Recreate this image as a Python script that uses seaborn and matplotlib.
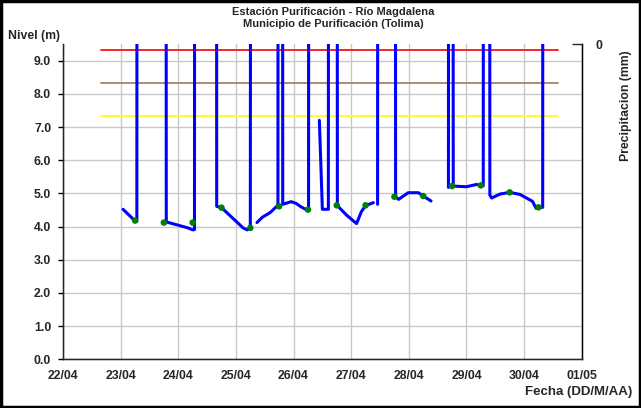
import matplotlib
matplotlib.use("Agg")
import matplotlib.pyplot as plt
import matplotlib.dates as mdates
import numpy as np
import pandas as pd
import seaborn as sns

# Nivel automatico (picos fuera de escala = 20, NaN = sin dato)
nivel_fechas = [
    "2011-04-23 01:00", "2011-04-23 03:00", "2011-04-23 06:00", "2011-04-23 06:45",
    "2011-04-23 06:50", "2011-04-23 18:55", "2011-04-23 19:00", "2011-04-24 04:00",
    "2011-04-24 06:00", "2011-04-24 06:45", "2011-04-24 06:50", "2011-04-24 15:55",
    "2011-04-24 16:00", "2011-04-24 18:00", "2011-04-25 03:00", "2011-04-25 04:45",
    "2011-04-25 06:00", "2011-04-25 06:10", "2011-04-25 07:00",
    "2011-04-25 08:45", "2011-04-25 11:00", "2011-04-25 14:15", "2011-04-25 17:00",
    "2011-04-25 17:30", "2011-04-25 17:35", "2011-04-25 19:25", "2011-04-25 19:30",
    "2011-04-25 23:00", "2011-04-26 01:00", "2011-04-26 03:00", "2011-04-26 05:00",
    "2011-04-26 06:15", "2011-04-26 06:20", "2011-04-26 08:00",
    "2011-04-26 10:45", "2011-04-26 12:00", "2011-04-26 14:30", "2011-04-26 14:35",
    "2011-04-26 18:10", "2011-04-26 18:15", "2011-04-26 22:00", "2011-04-27 02:15",
    "2011-04-27 04:15", "2011-04-27 06:00", "2011-04-27 09:15", "2011-04-27 10:00",
    "2011-04-27 11:00", "2011-04-27 11:05", "2011-04-27 18:25", "2011-04-27 18:30",
    "2011-04-27 19:45", "2011-04-27 23:45", "2011-04-28 04:00", "2011-04-28 06:00",
    "2011-04-28 09:15", "2011-04-28 12:00",
    "2011-04-28 16:30", "2011-04-28 16:35", "2011-04-28 18:25", "2011-04-28 18:30",
    "2011-04-29 00:00", "2011-04-29 04:15", "2011-04-29 06:00", "2011-04-29 07:00",
    "2011-04-29 07:05", "2011-04-29 09:40", "2011-04-29 09:45", "2011-04-29 10:30",
    "2011-04-29 14:00", "2011-04-29 18:00", "2011-04-29 22:15", "2011-04-30 03:30",
    "2011-04-30 05:00", "2011-04-30 07:45", "2011-04-30 07:50",
]
nivel_valores = [
    4.52, 4.38, 4.17, 4.16,
    20.0, 20.0, 4.14, 3.96,
    3.90, 3.91, 20.0, 20.0,
    4.61, 4.57, 3.96, 3.90,
    3.96, 20.0, np.nan,
    4.12, 4.28, 4.42, 4.61,
    4.63, 20.0, 20.0, 4.67,
    4.75, 4.70, 4.60, 4.52,
    4.50, 20.0, np.nan,
    7.20, 4.52, 4.52, 20.0,
    20.0, 4.63, 4.35, 4.09,
    4.45, 4.63, 4.72, np.nan,
    4.67, 20.0, 20.0, 4.90,
    4.82, 5.02, 5.02, 4.92,
    4.77, np.nan,
    5.18, 20.0, 20.0, 5.22,
    5.20, 5.27, 5.23, 5.23,
    20.0, 20.0, 4.95, 4.86,
    4.98, 5.03, 4.97, 4.76,
    4.55, 4.58, 20.0,
]

# Lecturas de mira (06:00 y 18:00)
mira_fechas = pd.date_range("2011-04-23 06:00", "2011-04-30 06:00", freq="12h")
mira_valores = [4.18, 4.12, 4.12, 4.57, 3.96, 4.61, 4.51, 4.64,
                4.64, 4.90, 4.92, 5.22, 5.24, 5.03, 4.58]

# Umbrales de alerta
umbral_inicio = "2011-04-22 16:00"
umbral_fin = "2011-04-30 14:00"
umbral_valores = [9.33, 8.33, 7.33]
umbral_colores = ["#ff2020", "#b08c6e", "#ffff20"]

fechas_ticks = pd.date_range("2011-04-22", "2011-05-01", freq="D")

sns.set_style("white")
plt.rcParams["font.family"] = ["Liberation Sans", "DejaVu Sans"]
plt.rcParams["font.weight"] = "bold"

df = pd.DataFrame({"fecha": pd.to_datetime(nivel_fechas), "nivel": nivel_valores})
df["tramo"] = df["nivel"].isna().cumsum()
df = df.dropna()

fig = plt.figure(figsize=(6.41, 4.08), dpi=100)
ax = fig.add_axes([0.0983, 0.1194, 0.8092, 0.7726])

for v, c in zip(umbral_valores, umbral_colores):
    ax.plot(pd.to_datetime([umbral_inicio, umbral_fin]), [v, v], color=c, lw=1.4, zorder=2)

sns.lineplot(data=df, x="fecha", y="nivel", units="tramo", estimator=None, sort=False,
             color="#0000ff", lw=2.2, ax=ax, zorder=3)
sns.scatterplot(x=mira_fechas, y=mira_valores, color="#008000", s=22, edgecolor="none",
                ax=ax, zorder=4)

ax.set_xlim(fechas_ticks[0], fechas_ticks[-1])
ax.set_ylim(0, 9.5)
ax.set_yticks(np.arange(0, 9.5, 1.0))
ax.yaxis.set_major_formatter(matplotlib.ticker.FormatStrFormatter("%.1f"))
ax.set_xticks(fechas_ticks)
ax.xaxis.set_major_formatter(mdates.DateFormatter("%d/%m"))
ax.grid(True, color="#c8c8c8", lw=1.0)
ax.set_axisbelow(True)
ax.set_xlabel("")
ax.set_ylabel("")
for s in ["left", "bottom", "right"]:
    ax.spines[s].set_color("black")
    ax.spines[s].set_linewidth(1.0)
ax.spines["top"].set_visible(False)
ax.tick_params(axis="both", labelsize=8.8, length=3.5, width=1, color="black", direction="out")
ax.tick_params(axis="y", pad=5)
ax.tick_params(axis="x", pad=4.5)

ax2 = ax.twinx()
ax2.set_ylim(100, 0)
ax2.set_yticks([0])
ax2.tick_params(axis="y", labelsize=8.8, length=7.5, width=1, direction="in", pad=10)
ax2.spines["top"].set_visible(False)
ax2.spines["right"].set_color("black")

fig.text(0.52, 0.970, "Estación Purificación - Río Magdalena", ha="center", va="center",
         fontsize=8, fontweight="bold")
fig.text(0.52, 0.941, "Municipio de Purificación (Tolima)", ha="center", va="center",
         fontsize=8, fontweight="bold")
fig.text(0.013, 0.912, "Nivel (m)", ha="left", va="center", fontsize=8.8, fontweight="bold")
fig.text(0.986, 0.038, "Fecha (DD/M/AA)", ha="right", va="center", fontsize=9.5, fontweight="bold")
fig.text(0.976, 0.742, "Precipitacion (mm)", ha="center", va="center", rotation=90,
         fontsize=8.8, fontweight="bold")

fig.patches.append(plt.Rectangle((0.002, 0.002), 0.996, 0.996, transform=fig.transFigure,
                                 fill=False, edgecolor="black", lw=2.5))

fig.savefig("out.png", dpi=100)
